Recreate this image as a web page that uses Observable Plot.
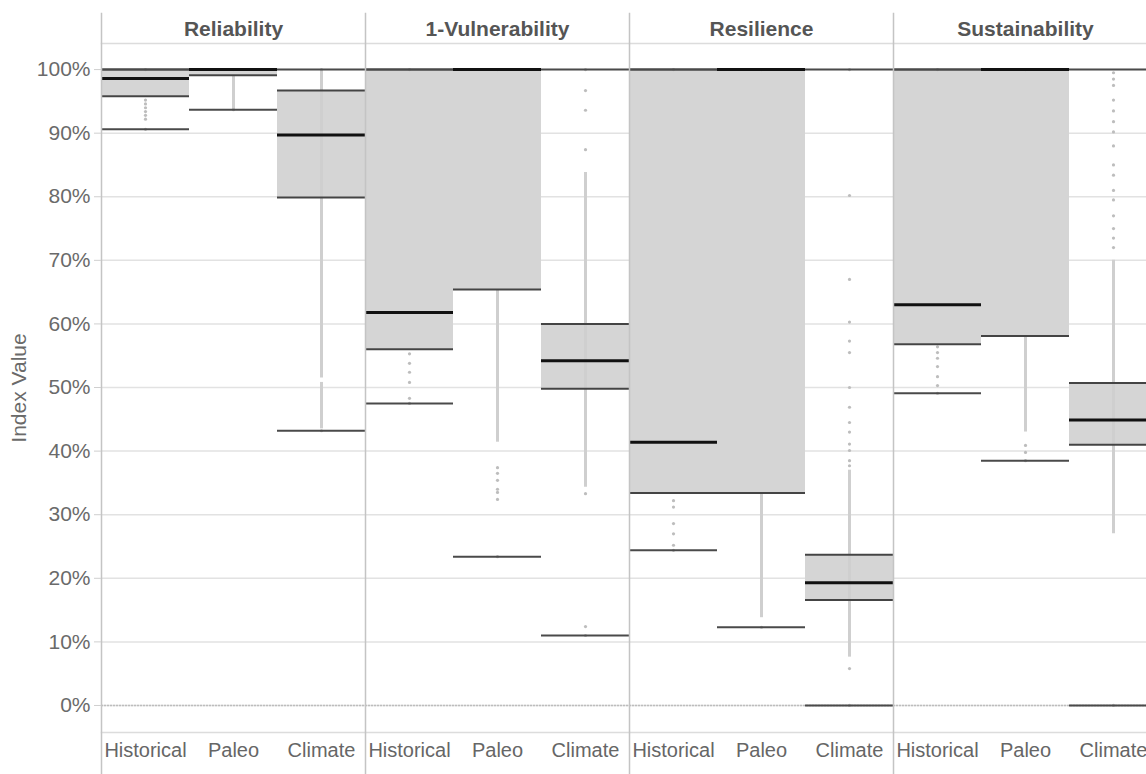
<!DOCTYPE html>
<html><head><meta charset="utf-8">
<script src="https://cdn.jsdelivr.net/npm/d3@7"></script>
<script src="https://cdn.jsdelivr.net/npm/@observablehq/plot@0.6"></script>
<style>
html,body{margin:0;padding:0;background:#fff;overflow:hidden;}
#chart{width:1146px;height:774px;overflow:hidden;}
#chart svg{max-width:none !important;}
</style></head><body><div id="chart"></div>
<script>
const facets = ["Reliability", "1-Vulnerability", "Resilience", "Sustainability"];
const categories = ["Historical", "Paleo", "Climate"];
const yTicks = [0, 10, 20, 30, 40, 50, 60, 70, 80, 90, 100];

// box statistics, facet-major order (H, P, C for each facet), in percent
const whiskerHigh = [100, 100, 100, 100, 100, 100, 100, 100, 100, 100, 100, 100];
const upperQuartile = [100, 100, 96.7, 100, 100, 60.0, 100, 100, 23.7, 100, 100, 50.7];
const medianValue = [98.6, 100, 89.7, 61.8, 100, 54.2, 41.4, 100, 19.3, 63.0, 100, 44.9];
const lowerQuartile = [95.8, 99.1, 79.9, 56.0, 65.4, 49.8, 33.4, 33.4, 16.6, 56.8, 58.1, 41.0];
const whiskerLow = [90.6, 93.7, 43.2, 47.5, 23.4, 11.0, 24.4, 12.3, 0, 49.1, 38.5, 0];

// individually visible data points
const pointValues = [
  [100, 95.2, 94.6, 94.0, 93.4, 92.8, 92.2, 90.6],
  [100, 93.7],
  [100, 43.2],
  [100, 55.3, 53.8, 52.4, 50.8, 48.3, 47.5],
  [100, 37.4, 36.5, 35.4, 34.0, 33.5, 32.4, 23.4],
  [100, 96.7, 93.6, 87.4, 33.3, 12.4, 11.0],
  [100, 32.2, 31.2, 28.6, 27.0, 25.2, 24.4],
  [100, 12.3],
  [100, 80.2, 67.0, 60.3, 57.3, 55.5, 50.0, 46.9, 44.5, 43.0, 41.1, 40.1, 38.5, 37.7, 5.8, 0],
  [100, 56.4, 55.5, 54.6, 53.3, 51.7, 50.3, 49.1],
  [100, 40.9, 39.8, 38.5],
  [99.5, 98.5, 97.5, 95.2, 93.5, 91.8, 90.2, 88.0, 85.0, 83.4, 81.0, 79.5, 77.0, 75.0, 73.5, 72.0, 0]
];
// runs of densely packed points (low, high)
const denseRuns = [
  [],
  [[93.7, 99.1]],
  [[51.5, 100], [43.5, 50.8]],
  [],
  [[41.4, 65.4]],
  [[34.3, 83.8]],
  [],
  [[13.8, 33.4]],
  [[7.6, 37.0]],
  [],
  [[43.0, 58.1]],
  [[27.0, 70.0]]
];

const boxes = whiskerHigh.map((_, i) => ({
  facet: facets[Math.floor(i / 3)], cat: categories[i % 3],
  lo: whiskerLow[i], q1: lowerQuartile[i], med: medianValue[i], q3: upperQuartile[i], hi: whiskerHigh[i]
}));
const points = pointValues.flatMap((vals, i) => vals.map(v => ({facet: boxes[i].facet, cat: boxes[i].cat, v})));
const dense = denseRuns.flatMap((runs, i) => runs.map(([a, b]) => ({facet: boxes[i].facet, cat: boxes[i].cat, a, b})));

const common = {fx: "facet", x: "cat"};
const plot = Plot.plot({
  width: 1158, height: 774,
  marginTop: 43, marginBottom: 42, marginLeft: 100, marginRight: 1,
  style: {fontFamily: "'Liberation Sans', Arial, sans-serif", fontSize: "20px", background: "#fff", color: "#666", maxWidth: "none"},
  fx: {domain: facets, padding: 0, label: null},
  x: {domain: categories, padding: 0, label: null},
  y: {domain: [-4.25, 104.1]},
  marks: [
    Plot.gridY(yTicks, {stroke: "#e2e2e2", strokeOpacity: 1, strokeWidth: 1.5}),
    Plot.ruleY([0], {stroke: "#bdbdbd", strokeWidth: 1.5, strokeDasharray: "2,1"}),
    Plot.frame({anchor: "top", stroke: "#dcdcdc", strokeWidth: 1.5}),
    Plot.frame({anchor: "bottom", stroke: "#dcdcdc", strokeWidth: 1.5}),
    Plot.barY(boxes, {...common, y1: "q1", y2: "q3", fill: "#d5d5d5"}),
    Plot.ruleX(dense, {...common, y1: "a", y2: "b", stroke: "#cfcfcf", strokeWidth: 3}),
    Plot.dot(points, {...common, y: "v", r: 1.6, fill: "#bdbdbd", stroke: null}),
    Plot.tickY(boxes, {...common, y: "q1", stroke: "#444", strokeWidth: 2}),
    Plot.tickY(boxes, {...common, y: "q3", stroke: "#444", strokeWidth: 2}),
    Plot.tickY(boxes, {...common, y: "lo", stroke: "#4a4a4a", strokeWidth: 2}),
    Plot.tickY(boxes, {...common, y: "hi", stroke: "#4a4a4a", strokeWidth: 2}),
    Plot.tickY(boxes, {...common, y: "med", stroke: "#111", strokeWidth: 3}),
    Plot.frame({anchor: "left", stroke: "#c4c4c4", strokeWidth: 1.5, insetTop: -30, insetBottom: -41}),
    Plot.axisY(yTicks, {tickSize: 7, tickPadding: 4, tickFormat: d => d + "%", stroke: "#cfcfcf", fill: "#6a6a6a", fontSize: 21,
      label: "Index Value", labelArrow: "none", labelAnchor: "center", labelOffset: 90}),
    Plot.axisX({tickSize: 0, tickPadding: 10, fill: "#666", fontSize: 20, label: null}),
    Plot.axisFx({anchor: "top", tickSize: 0, tickPadding: 8, fill: "#555", fontWeight: "bold", fontSize: 21, label: null})
  ]
});
document.getElementById("chart").appendChild(plot);
</script>
</body></html>
